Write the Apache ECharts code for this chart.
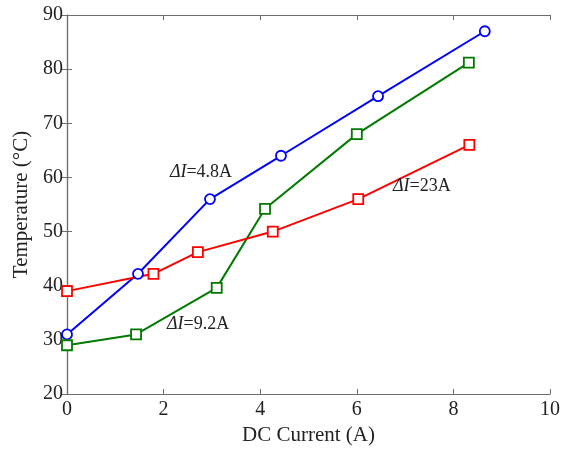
<!DOCTYPE html>
<html><head><meta charset="utf-8">
<script src="https://cdn.jsdelivr.net/npm/echarts@6/dist/echarts.min.js"></script>
<style>html,body{margin:0;padding:0;background:#fff}#c{width:574px;height:449px}</style>
</head><body><div id="c"></div>
<script>
const blueData = [[0,31],[1.47,42.2],[2.96,56],[4.43,64],[6.44,75],[8.65,87]];
const greenData = [[0,29],[1.43,31],[3.1,39.6],[4.1,54.2],[6.0,68],[8.32,81.2]];
const redData = [[0,39],[1.79,42.2],[2.71,46.2],[4.26,50],[6.03,56],[8.33,66]];
const labels = [
  {name:'4.8A', coord:[2.13,61], series:0},
  {name:'23A', coord:[6.75,58.4], series:2},
  {name:'9.2A', coord:[2.07,32.9], series:1}
];
const xTicks = [0,2,4,6,8,10];
const yTicks = [20,30,40,50,60,70,80,90];

const font = 'Liberation Serif';
const axisLine = {show:true, lineStyle:{color:'#6e6e6e', width:1.2}};
const axisTick = {show:true, inside:true, length:5, lineStyle:{color:'#6e6e6e'}};
const chart = echarts.init(document.getElementById('c'));

function mkSeries(data, color, symbol, idx){
  const mine = labels.filter(l=>l.series===idx);
  return {
    type:'line', data, xAxisIndex:0, yAxisIndex:0,
    symbol, symbolSize: 10, showAllSymbol:true,
    lineStyle:{color, width:2}, itemStyle:{color:'#fff', borderColor:color, borderWidth:1.8},
    z:2,
    markPoint: mine.length ? {
      symbol:'circle', symbolSize:0, silent:true,
      data: mine.map(l=>({coord:l.coord, value:l.name})),
      label:{show:true, position:'right', distance:0, formatter: p=>'{i|ΔI}{n|=' + p.value + '}',
        rich:{i:{fontFamily:font, fontStyle:'italic', fontSize:18, color:'#222'}, n:{fontFamily:font, fontSize:18, color:'#222'}}}
    } : undefined
  };
}

chart.setOption({
  animation:false,
  backgroundColor:'#fff',
  grid:{left:67, right:24, top:15, bottom:55, show:false, containLabel:false, outerBoundsMode:'none'},
  xAxis:[
    {type:'value', min:0, max:10, interval:2, position:'bottom',
     name:'DC Current (A)', nameLocation:'middle', nameGap:31,
     nameTextStyle:{fontFamily:font, fontSize:21, color:'#222'},
     axisLine, axisTick, splitLine:{show:false},
     axisLabel:{fontFamily:font, fontSize:20, color:'#222', margin:6}},
    {type:'value', min:0, max:10, interval:2, position:'top',
     axisLine, axisTick, splitLine:{show:false}, axisLabel:{show:false}}
  ],
  yAxis:[
    {type:'value', min:20, max:90, interval:10, position:'left',
     name:'Temperature (°C)', nameLocation:'middle', nameGap:33,
     nameTextStyle:{fontFamily:font, fontSize:21, color:'#222'},
     axisLine, axisTick, splitLine:{show:false},
     axisLabel:{fontFamily:font, fontSize:20, color:'#222', margin:4}},
    {type:'value', min:20, max:90, interval:10, position:'right',
     axisLine, axisTick, splitLine:{show:false}, axisLabel:{show:false}}
  ],
  series:[
    mkSeries(blueData, '#0000ff', 'circle', 0),
    mkSeries(greenData, '#007a00', 'rect', 1),
    mkSeries(redData, '#ff0000', 'rect', 2)
  ]
});
</script></body></html>
